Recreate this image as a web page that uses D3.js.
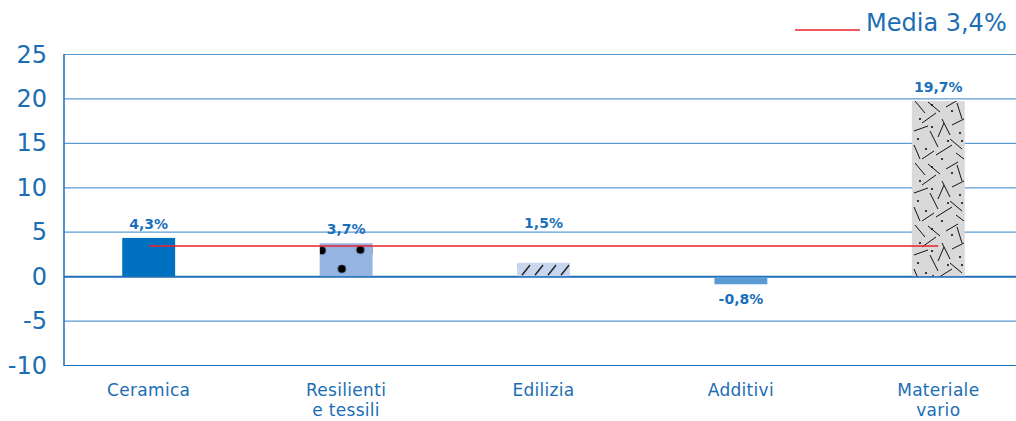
<!DOCTYPE html>
<html>
<head>
<meta charset="utf-8">
<script src="https://cdn.jsdelivr.net/npm/d3@7"></script>
<style>
  body { margin: 0; background: #fff; }
  text { font-family: "DejaVu Sans", sans-serif; }
</style>
</head>
<body>
<svg width="1016" height="421"></svg>
<script>
// data
var categories = ["Ceramica", "Resilienti\ne tessili", "Edilizia", "Additivi", "Materiale\nvario"];
var values = [4.3, 3.7, 1.5, -0.8, 19.7];
var valueLabels = ["4,3%", "3,7%", "1,5%", "-0,8%", "19,7%"];
var media = 3.4;
var mediaLabel = "Media 3,4%";
var yTicks = [-10, -5, 0, 5, 10, 15, 20, 25];

var svg = d3.select("svg"),
  width = +svg.attr("width"),
  height = +svg.attr("height");

var blue = "#1b6db4";
var fills = ["#0070c0", "url(#dots)", "url(#hatch)", "#5b9bd5", "url(#scatter)"];

var x = d3.scaleBand().domain(categories).range([50, 1037]).paddingInner(0.732).paddingOuter(0.366);
var y = d3.scaleLinear().domain([-10, 25]).range([365, 54]);

var defs = svg.append("defs");

// hatch for Edilizia
var hatch = defs.append("pattern")
  .attr("id", "hatch")
  .attr("patternUnits", "userSpaceOnUse")
  .attr("x", 0).attr("y", y(0))
  .attr("width", 13).attr("height", 14);
hatch.append("rect").attr("width", 13).attr("height", 14).attr("fill", "#c9d6ef");
hatch.append("line")
  .attr("x1", 2).attr("y1", 13).attr("x2", 10).attr("y2", 3)
  .attr("stroke", "#111").attr("stroke-width", 1.3);

// dots for Resilienti
var dots = defs.append("pattern")
  .attr("id", "dots")
  .attr("patternUnits", "objectBoundingBox")
  .attr("patternContentUnits", "objectBoundingBox")
  .attr("width", 1).attr("height", 1);
dots.append("rect").attr("width", 1).attr("height", 1).attr("fill", "#95b4e2");
[[0.04, 0.22], [0.77, 0.2], [0.42, 0.78]].forEach(function (p) {
  dots.append("ellipse")
    .attr("cx", p[0]).attr("cy", p[1])
    .attr("rx", 0.075).attr("ry", 0.12)
    .attr("fill", "#000");
});

// scattered lines for Materiale vario
var scatter = defs.append("pattern")
  .attr("id", "scatter")
  .attr("patternUnits", "userSpaceOnUse")
  .attr("x", 912).attr("y", 99)
  .attr("width", 53).attr("height", 62);
scatter.append("rect").attr("width", 53).attr("height", 62).attr("fill", "#d9d9d9");
var segs = [
  [3, 2, 13, 14], [16, 3, 28, 13], [24, 14, 10, 24], [34, 8, 46, 1], [45, 4, 50, 20],
  [30, 20, 38, 36], [40, 26, 52, 20], [2, 32, 16, 27], [18, 32, 26, 48], [38, 40, 50, 50],
  [2, 46, 8, 60], [24, 56, 40, 46], [44, 54, 52, 60], [10, 60, 22, 52], [32, 24, 26, 38]
];
segs.forEach(function (s) {
  scatter.append("line")
    .attr("x1", s[0]).attr("y1", s[1]).attr("x2", s[2]).attr("y2", s[3])
    .attr("stroke", "#111").attr("stroke-width", 1);
});
[[8, 20], [20, 28], [48, 34], [6, 40], [36, 42], [20, 6], [50, 42], [14, 50], [40, 12], [30, 60]].forEach(function (p) {
  scatter.append("circle").attr("cx", p[0]).attr("cy", p[1]).attr("r", 1.1).attr("fill", "#111");
});

// grid
svg.append("g")
  .selectAll("line")
  .data(yTicks)
  .enter()
  .append("line")
  .attr("x1", 64).attr("x2", width)
  .attr("y1", function (d) { return y(d) + 0.5; })
  .attr("y2", function (d) { return y(d) + 0.5; })
  .attr("stroke", function (d) { return d === 0 || d === -10 ? "#1f6fb8" : "#5b9bd5"; })
  .attr("stroke-width", function (d) { return d === 0 ? 2 : 1.2; });

svg.append("line")
  .attr("x1", 64).attr("x2", 64)
  .attr("y1", y(25)).attr("y2", y(-10) + 1)
  .attr("stroke", "#1f6fb8").attr("stroke-width", 1.5);

// y tick labels
svg.append("g")
  .selectAll("text")
  .data(yTicks)
  .enter()
  .append("text")
  .attr("x", 47)
  .attr("y", function (d) { return y(d); })
  .attr("dy", "0.36em")
  .attr("text-anchor", "end")
  .style("font-size", "24px")
  .style("fill", blue)
  .text(function (d) { return d; });

// bars
svg.append("g")
  .selectAll("rect")
  .data(values)
  .enter()
  .append("rect")
  .attr("x", function (d, i) { return x(categories[i]); })
  .attr("width", x.bandwidth())
  .attr("y", function (d) { return d >= 0 ? y(d) : y(0) + 1; })
  .attr("height", function (d) { return Math.abs(y(d) - y(0)); })
  .attr("fill", function (d, i) { return fills[i]; });

// value labels
svg.append("g")
  .selectAll("text")
  .data(values)
  .enter()
  .append("text")
  .attr("x", function (d, i) { return x(categories[i]) + x.bandwidth() / 2; })
  .attr("y", function (d, i) {
    if (d < 0) return y(d) + 21;
    if (i == 2) return y(5) - 4;
    return y(d) - 9;
  })
  .attr("text-anchor", "middle")
  .style("font-size", "14px")
  .style("font-weight", "bold")
  .style("fill", "#1b70bb")
  .text(function (d, i) { return valueLabels[i]; });

// media line
svg.append("line")
  .attr("x1", x(categories[0]) + x.bandwidth() / 2)
  .attr("x2", x(categories[4]) + x.bandwidth() / 2)
  .attr("y1", y(media)).attr("y2", y(media))
  .attr("stroke", "#e8202a").attr("stroke-width", 1.6);

// x labels
var xl = svg.append("g")
  .selectAll("text")
  .data(categories)
  .enter()
  .append("text")
  .attr("x", function (d) { return x(d) + x.bandwidth() / 2; })
  .attr("y", 396)
  .attr("text-anchor", "middle")
  .style("font-size", "17px")
  .style("letter-spacing", "0.3px")
  .style("fill", blue);
xl.each(function (d) {
  var parts = d.split("\n");
  var t = d3.select(this);
  parts.forEach(function (p, k) {
    t.append("tspan")
      .attr("x", t.attr("x"))
      .attr("dy", k == 0 ? 0 : 20)
      .text(p);
  });
});

// legend
svg.append("line")
  .attr("x1", 795).attr("x2", 860)
  .attr("y1", 30).attr("y2", 30)
  .attr("stroke", "#e8202a").attr("stroke-width", 1.6);
svg.append("text")
  .attr("x", 866).attr("y", 31)
  .style("font-size", "24px")
  .style("fill", blue)
  .text(mediaLabel);
</script>
</body>
</html>
